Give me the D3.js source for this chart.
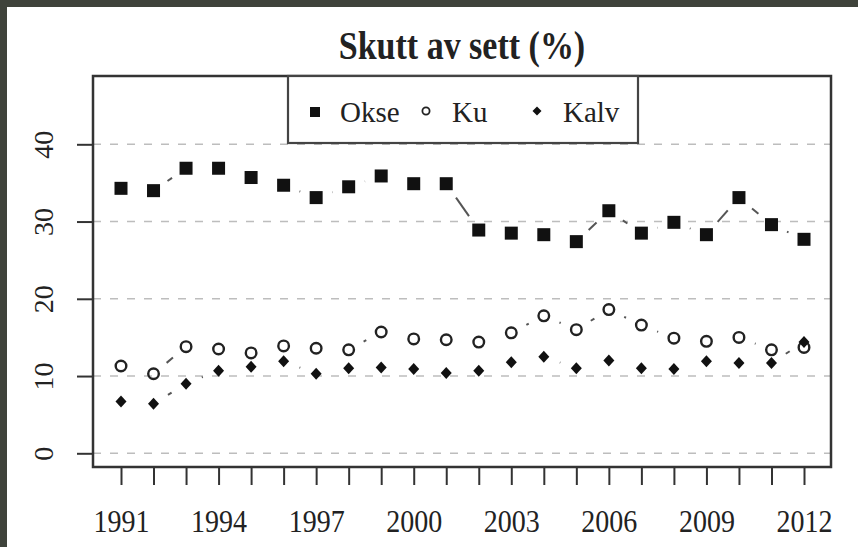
<!DOCTYPE html>
<html>
<head>
<meta charset="utf-8">
<script src="https://cdn.jsdelivr.net/npm/d3@7"></script>
<style>
  body { margin: 0; background: #ffffff; }
  text { font-family: "Liberation Serif", "DejaVu Serif", serif; fill: #222; }
</style>
</head>
<body>
<div id="vis"></div>
<script>
const FRAME_WIDTH = 858;
const FRAME_HEIGHT = 547;
const PLOT = {left: 93, right: 831, top: 76, bottom: 467};

// data
const YEARS = d3.range(1991, 2013);
const OKSE = [34.3, 34.0, 36.9, 36.9, 35.7, 34.7, 33.1, 34.5, 35.9, 34.9, 34.9,
              28.9, 28.5, 28.3, 27.4, 31.4, 28.5, 29.9, 28.3, 33.1, 29.6, 27.7];
const KU = [11.3, 10.3, 13.8, 13.5, 13.0, 13.9, 13.6, 13.4, 15.7, 14.8, 14.7,
            14.4, 15.6, 17.8, 16.0, 18.6, 16.6, 14.9, 14.5, 15.0, 13.4, 13.7];
const KALV = [6.7, 6.4, 9.0, 10.7, 11.2, 11.9, 10.3, 11.0, 11.1, 10.9, 10.4,
              10.7, 11.8, 12.5, 11.0, 12.0, 11.0, 10.9, 11.9, 11.7, 11.7, 14.4];
const Y_TICKS = [0, 10, 20, 30, 40];
const X_LABELS = [1991, 1994, 1997, 2000, 2003, 2006, 2009, 2012];
const SERIES_NAMES = ["Okse", "Ku", "Kalv"];

const FRAME = d3.select("#vis")
  .append("svg")
    .attr("width", FRAME_WIDTH)
    .attr("height", FRAME_HEIGHT);

// dark photo edge, then white page
FRAME.append("rect").attr("width", FRAME_WIDTH).attr("height", FRAME_HEIGHT).attr("fill", "#3f433b");
FRAME.append("rect").attr("x", 7).attr("y", 7)
  .attr("width", FRAME_WIDTH - 7).attr("height", FRAME_HEIGHT - 7).attr("fill", "#ffffff");

const X_SCALE = d3.scaleLinear().domain([1991, 2012]).range([121, 804]);
const Y_SCALE = d3.scaleLinear().domain([0, 40]).range([453.3, 144.3]);

// grid lines
FRAME.selectAll(".grid")
  .data(Y_TICKS)
  .enter()
  .append("line")
    .attr("x1", PLOT.left).attr("x2", PLOT.right)
    .attr("y1", d => Y_SCALE(d)).attr("y2", d => Y_SCALE(d))
    .attr("stroke", "#bdbdbd")
    .attr("stroke-width", 1.6)
    .attr("stroke-dasharray", "8,9");

// x axis
const xAxis = FRAME.append("g")
  .attr("transform", "translate(0," + PLOT.bottom + ")")
  .call(d3.axisBottom(X_SCALE).tickValues(YEARS).tickSize(18)
    .tickFormat(d => X_LABELS.includes(d) ? String(d) : ""));
xAxis.select(".domain").remove();
xAxis.selectAll("line").attr("stroke", "#333").attr("stroke-width", 2);
xAxis.selectAll("text")
  .attr("dy", 0)
  .attr("y", 65 / 1.15)
  .attr("transform", "scale(1,1.15)")
  .attr("font-size", 28)
  .attr("fill", "#222");

// y axis
const yAxis = FRAME.append("g")
  .attr("transform", "translate(" + PLOT.left + ",0)")
  .call(d3.axisLeft(Y_SCALE).tickValues(Y_TICKS).tickSize(16));
yAxis.select(".domain").remove();
yAxis.selectAll("line").attr("stroke", "#333").attr("stroke-width", 2);
yAxis.selectAll("text")
  .attr("x", 0).attr("y", 0).attr("dy", 0)
  .attr("transform", "translate(-40,0) rotate(-90)")
  .attr("text-anchor", "middle")
  .attr("font-size", 28)
  .attr("fill", "#222");

// plot box
FRAME.append("rect")
  .attr("x", PLOT.left).attr("y", PLOT.top)
  .attr("width", PLOT.right - PLOT.left).attr("height", PLOT.bottom - PLOT.top)
  .attr("fill", "none").attr("stroke", "#333").attr("stroke-width", 2.5);

// connecting lines with gaps round the points (like type = "b")
const GAP = 17;
function drawLinks(values) {
  const segs = [];
  for (let i = 0; i < values.length - 1; i++) {
    const x1 = X_SCALE(YEARS[i]), y1 = Y_SCALE(values[i]);
    const x2 = X_SCALE(YEARS[i + 1]), y2 = Y_SCALE(values[i + 1]);
    const len = Math.hypot(x2 - x1, y2 - y1);
    if (len > 2 * GAP) {
      const ux = (x2 - x1) / len, uy = (y2 - y1) / len;
      segs.push([x1 + ux * GAP, y1 + uy * GAP, x2 - ux * GAP, y2 - uy * GAP]);
    }
  }
  FRAME.append("g").selectAll("line")
    .data(segs)
    .enter()
    .append("line")
      .attr("x1", d => d[0]).attr("y1", d => d[1])
      .attr("x2", d => d[2]).attr("y2", d => d[3])
      .attr("stroke", "#555")
      .attr("stroke-width", 2);
}
drawLinks(OKSE);
drawLinks(KU);
drawLinks(KALV);

// points
FRAME.append("g").selectAll("rect")
  .data(OKSE)
  .enter()
  .append("rect")
    .attr("x", (d, i) => X_SCALE(YEARS[i]) - 6.5)
    .attr("y", d => Y_SCALE(d) - 6.5)
    .attr("width", 13).attr("height", 13)
    .attr("fill", "#111");

FRAME.append("g").selectAll("circle")
  .data(KU)
  .enter()
  .append("circle")
    .attr("cx", (d, i) => X_SCALE(YEARS[i]))
    .attr("cy", d => Y_SCALE(d))
    .attr("r", 5.3)
    .attr("fill", "none")
    .attr("stroke", "#222")
    .attr("stroke-width", 2.4);

FRAME.append("g").selectAll("path")
  .data(KALV)
  .enter()
  .append("path")
    .attr("d", "M0,-6L5.5,0L0,6L-5.5,0Z")
    .attr("transform", (d, i) => "translate(" + X_SCALE(YEARS[i]) + "," + Y_SCALE(d) + ")")
    .attr("fill", "#111");

// legend
const LEGEND = FRAME.append("g");
LEGEND.append("rect")
  .attr("x", 288).attr("y", PLOT.top)
  .attr("width", 350).attr("height", 67)
  .attr("fill", "#ffffff").attr("stroke", "#444").attr("stroke-width", 2.2);
LEGEND.append("rect").attr("x", 310).attr("y", 107).attr("width", 10).attr("height", 10).attr("fill", "#111");
LEGEND.append("circle").attr("cx", 426).attr("cy", 111).attr("r", 3.6)
  .attr("fill", "none").attr("stroke", "#222").attr("stroke-width", 1.8);
LEGEND.append("path").attr("d", "M0,-4.5L4.5,0L0,4.5L-4.5,0Z")
  .attr("transform", "translate(537,111)").attr("fill", "#111");
LEGEND.selectAll("text")
  .data(SERIES_NAMES)
  .enter()
  .append("text")
    .attr("x", (d, i) => [340, 452, 563][i])
    .attr("y", 122)
    .attr("font-size", 29)
    .text(d => d);

// title
FRAME.append("text")
  .attr("x", 462)
  .attr("y", 59 / 1.15)
  .attr("transform", "scale(1,1.15)")
  .attr("text-anchor", "middle")
  .attr("font-size", 34)
  .attr("font-weight", "bold")
  .text("Skutt av sett (%)");
</script>
</body>
</html>
